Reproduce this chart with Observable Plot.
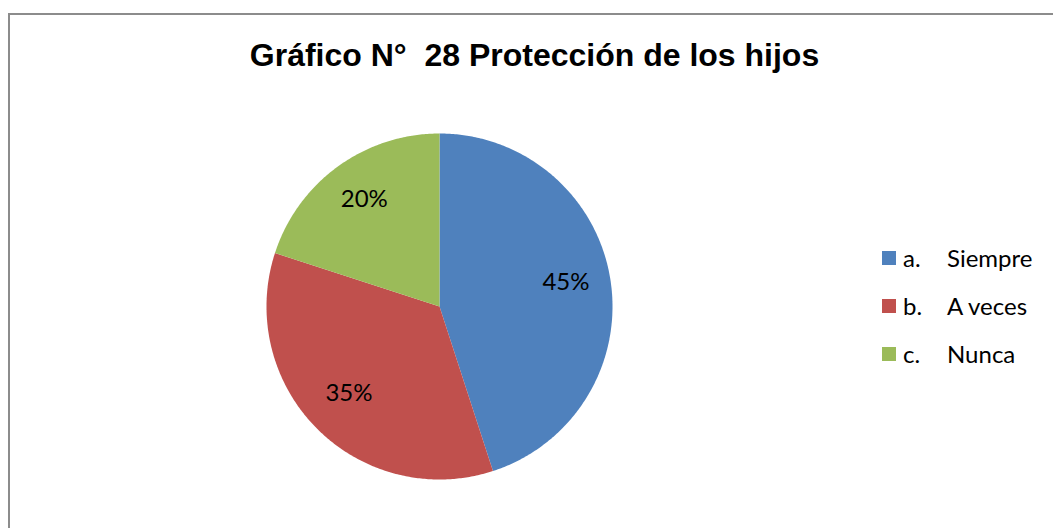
<!DOCTYPE html>
<html>
<head>
<meta charset="utf-8">
<script src="https://cdn.jsdelivr.net/npm/d3@7"></script>
<script src="https://cdn.jsdelivr.net/npm/@observablehq/plot@0.6"></script>
<style>
  html, body { margin: 0; padding: 0; background: #fff; width: 1053px; height: 528px; overflow: hidden; }
  #frame { position: absolute; left: 8px; top: 13px; width: 1200px; height: 700px; border-left: 2px solid #8c8c8c; border-top: 2px solid #8c8c8c; }
  #chart { position: absolute; left: 0; top: 0; }
  #title { position: absolute; left: 8px; width: 1053px; top: 37px; text-align: center; font-family: "Liberation Sans", Arial, sans-serif; font-weight: bold; font-size: 32px; color: #000; white-space: pre; }
  #legend { position: absolute; left: 882px; top: 243px; font-family: Lato, "Open Sans", sans-serif; font-size: 24px; color: #000; }
  .row { position: relative; height: 48px; }
  .sw { position: absolute; left: 0; top: 8px; width: 14px; height: 14px; }
  .key { position: absolute; left: 21px; top: 0; line-height: 30px; }
  .lab { position: absolute; left: 65px; top: 0; line-height: 30px; white-space: nowrap; }
</style>
</head>
<body>
<div id="frame"></div>
<div id="chart"></div>
<div id="title">Gráfico N°  28 Protección de los hijos</div>
<div id="legend"></div>
<script>
const keys = ["a.", "b.", "c."];
const categories = ["Siempre", "A veces", "Nunca"];
const values = [45, 35, 20];
const labels = ["45%", "35%", "20%"];
const colors = ["#4F81BD", "#C0504D", "#9BBB59"];

// pie geometry (angles measured clockwise from 12 o'clock)
const pie = d3.pie().sort(null).value(d => d)(values);
const slices = [];
const labelPts = [];
pie.forEach((p, i) => {
  const cat = categories[i];
  slices.push({cat, x: 0, y: 0});
  const n = Math.max(2, Math.ceil((p.endAngle - p.startAngle) / 0.01));
  for (let k = 0; k <= n; k++) {
    const a = p.startAngle + (p.endAngle - p.startAngle) * k / n;
    slices.push({cat, x: Math.sin(a), y: Math.cos(a)});
  }
  const m = (p.startAngle + p.endAngle) / 2;
  labelPts.push({cat, label: labels[i], x: 0.74 * Math.sin(m), y: 0.74 * Math.cos(m)});
});

const plot = Plot.plot({
  width: 1053,
  height: 528,
  margin: 0,
  x: {domain: [-1, 1], range: [266, 612], axis: null},
  y: {domain: [-1, 1], range: [479, 133], axis: null},
  color: {domain: categories, range: colors},
  style: {background: "transparent"},
  marks: [
    Plot.line(slices, {x: "x", y: "y", z: "cat", fill: "cat", stroke: "none", curve: "linear-closed"}),
    Plot.text(labelPts, {x: "x", y: "y", text: "label", dy: -4, fontSize: 24, fontFamily: "Lato, 'Open Sans', sans-serif", fill: "#000"})
  ]
});
document.getElementById("chart").appendChild(plot);

const legend = document.getElementById("legend");
categories.forEach((c, i) => {
  const row = document.createElement("div");
  row.className = "row";
  row.innerHTML = `<div class="sw" style="background:${colors[i]}"></div><span class="key">${keys[i]}</span><span class="lab">${c}</span>`;
  legend.appendChild(row);
});
</script>
</body>
</html>
